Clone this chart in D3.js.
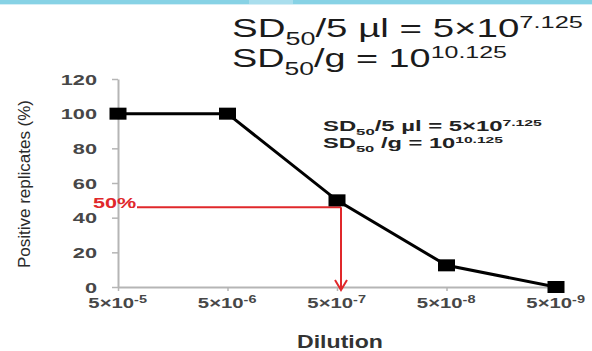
<!DOCTYPE html>
<html><head><meta charset="utf-8">
<script src="https://cdn.jsdelivr.net/npm/d3@7"></script>
<style>
body{margin:0;background:#fff}
svg{display:block;font-family:"Liberation Sans",Arial,sans-serif}
</style>
</head><body><svg id="c" width="592" height="351"></svg>
<script>
// ---- data ----
const categories = ["5×10-5","5×10-6","5×10-7","5×10-8","5×10-9"];
const tickBase = "5×10";
const tickExponents = ["-5","-6","-7","-8","-9"];
const positivePct = [100, 100, 50, 12.5, 0];
const yTicks = [0, 20, 40, 60, 80, 100, 120];
const thresholdPct = 46;
const thresholdCategory = "5×10-7";
const thresholdLabel = "50%";
const titleLines = [
  {pre:"SD", sub:"50", mid:"/5 µl = 5×10", sup:"7.125"},
  {pre:"SD", sub:"50", mid:"/g = 10", sup:"10.125"}
];
const noteLines = [
  {pre:"SD", sub:"50", mid:"/5 µl = 5×10", sup:"7.125"},
  {pre:"SD", sub:"50", mid:" /g = 10", sup:"10.125"}
];
const xTitle = "Dilution";
const yTitle = "Positive replicates (%)";

// ---- layout ----
const svg = d3.select("#c");
const SX = 1.45; // horizontal stretch of the reference
const x = d3.scalePoint().domain(categories).range([118, 556]);
const y = d3.scaleLinear().domain([0, 120]).range([287, 79]);

// top band
svg.append("rect").attr("x",0).attr("y",0).attr("width",592).attr("height",4).attr("fill","#87d2e5");
svg.append("rect").attr("x",249).attr("y",0).attr("width",44).attr("height",4).attr("fill","#a9deed");
svg.append("rect").attr("x",0).attr("y",4).attr("width",592).attr("height",1).attr("fill","#d4eef6");

function fit(g, left, baseline, width){
  const bb = g.node().getBBox();
  const sx = width / bb.width;
  g.attr("transform", `translate(${left - bb.x*sx},${baseline}) scale(${sx},1)`);
}
function richText(parent, d, size, weight, fill){
  const g = parent.append("g");
  const t = g.append("text").attr("x",0).attr("y",0)
    .attr("font-size",size).attr("font-weight",weight).attr("fill",fill);
  t.append("tspan").text(d.pre);
  t.append("tspan").attr("font-size",size*0.7).attr("dy",size*0.3).text(d.sub);
  t.append("tspan").attr("dy",-size*0.3).text(d.mid);
  t.append("tspan").attr("font-size",size*0.66).attr("dy",-size*0.36).text(d.sup);
  return g;
}

// title
fit(richText(svg, titleLines[0], 25, "normal", "#1b1b1b"), 232, 37, 351);
fit(richText(svg, titleLines[1], 25, "normal", "#1b1b1b"), 232, 67, 275);
// inner note
fit(richText(svg, noteLines[0], 14, "bold", "#222"), 323, 131, 219);
fit(richText(svg, noteLines[1], 14, "bold", "#222"), 323, 148, 180);

// axes
const axisColor = "#b5b5b5";
const yAxis = svg.append("g").attr("transform","translate(118,0)")
  .call(d3.axisLeft(y).tickValues(yTicks).tickSize(6).tickSizeOuter(0).tickFormat(d3.format("d")));
yAxis.select(".domain").attr("stroke",axisColor).attr("stroke-width",2);
yAxis.selectAll(".tick line").attr("stroke",axisColor).attr("stroke-width",1.5);
yAxis.selectAll(".tick text")
  .attr("x",0).attr("dy","0.34em")
  .attr("transform",`translate(-21,0) scale(${SX},1)`)
  .attr("font-size",15).attr("font-weight","bold").attr("fill","#474747")
  .attr("font-family","Liberation Sans, Arial, sans-serif");

const xAxis = svg.append("g").attr("transform","translate(0,287)")
  .call(d3.axisBottom(x).tickSize(4).tickSizeOuter(0).tickFormat(""));
xAxis.select(".domain").attr("stroke",axisColor).attr("stroke-width",2);
xAxis.selectAll(".tick line").attr("stroke",axisColor).attr("stroke-width",1.5);

categories.forEach((c,i)=>{
  const g = svg.append("g");
  const t = g.append("text").attr("font-size",14).attr("font-weight","bold").attr("fill","#474747");
  t.append("tspan").text(tickBase);
  t.append("tspan").attr("font-size",10).attr("dy",-5).text(tickExponents[i]);
  const bb = g.node().getBBox();
  g.attr("transform",`translate(${x(c) - (bb.x + bb.width/2)*SX},308) scale(${SX},1)`);
});

// axis titles
const xt = svg.append("g");
xt.append("text").attr("font-size",18).attr("font-weight","bold").attr("fill","#333").text(xTitle);
fit(xt, 297, 348, 86);

svg.append("text")
  .attr("transform","translate(30,184) rotate(-90)")
  .attr("text-anchor","middle")
  .attr("font-size",16).attr("fill","#2a2a2a")
  .attr("textLength",168).attr("lengthAdjust","spacingAndGlyphs")
  .text(yTitle);

// red guideline
const red = "#e0282b";
const tx = x(thresholdCategory) + 4;
const ty = y(thresholdPct);
svg.append("line").attr("x1",137).attr("x2",tx).attr("y1",ty).attr("y2",ty)
  .attr("stroke",red).attr("stroke-width",2);
svg.append("line").attr("x1",tx).attr("x2",tx).attr("y1",ty).attr("y2",y(0)+3)
  .attr("stroke",red).attr("stroke-width",2);
svg.append("path")
  .attr("d",`M${tx-6},${y(0)-7}L${tx},${y(0)+3}L${tx+6},${y(0)-7}`)
  .attr("fill","none").attr("stroke",red).attr("stroke-width",2);
const lab = svg.append("g");
lab.append("text").attr("font-size",14).attr("font-weight","bold").attr("fill",red).text(thresholdLabel);
fit(lab, 93, 208, 44);

// data line + markers
const pts = categories.map((c,i)=>({c, v:positivePct[i]}));
svg.append("path").datum(pts)
  .attr("d", d3.line().x(d=>x(d.c)).y(d=>y(d.v)))
  .attr("fill","none").attr("stroke","#000").attr("stroke-width",3);
svg.selectAll("rect.m").data(pts).join("rect").attr("class","m")
  .attr("x",d=>x(d.c)-8.5).attr("y",d=>y(d.v)-6)
  .attr("width",17).attr("height",12).attr("fill","#000");
</script>
</body></html>
